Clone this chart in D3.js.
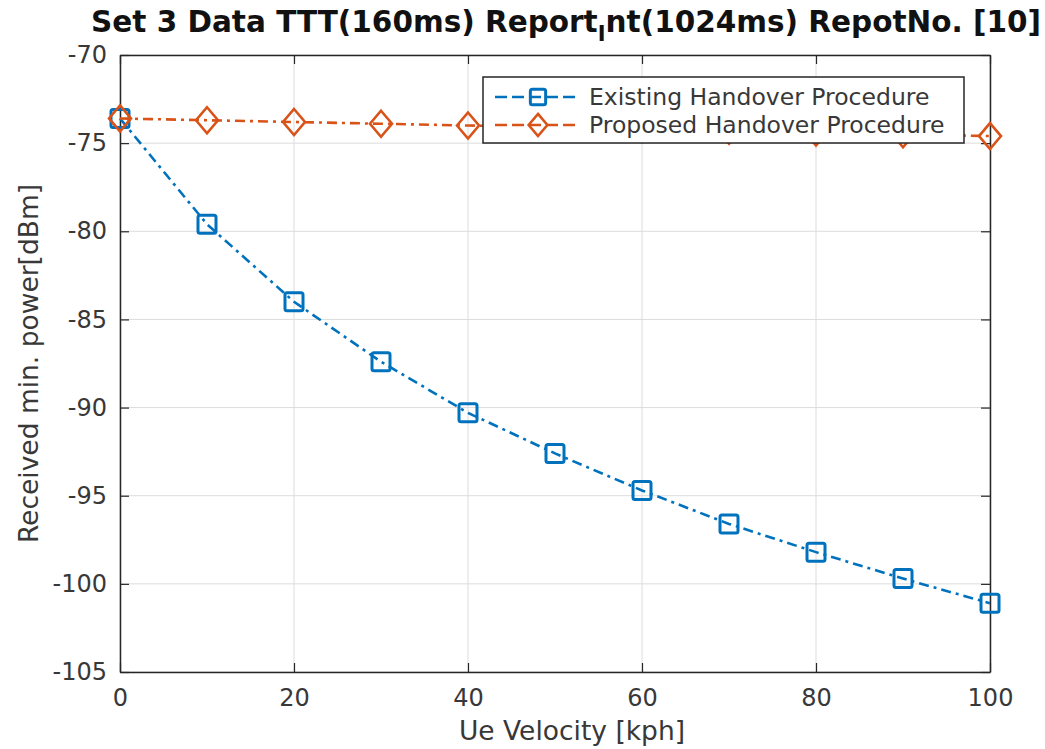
<!DOCTYPE html>
<html>
<head>
<meta charset="utf-8">
<script src="https://cdn.jsdelivr.net/npm/d3@7"></script>
<style>
  html, body { margin: 0; padding: 0; background: #fff; }
  svg { display: block; }
  text { font-family: "DejaVu Sans", sans-serif; }
</style>
</head>
<body>
<svg id="chart" width="1045" height="749"></svg>
<script>
// UE velocity samples (kph)
const velocity = [0, 10, 20, 30, 40, 50, 60, 70, 80, 90, 100];
// Received minimum power (dBm) for each procedure
const existingPower = [-73.6, -79.6, -84.0, -87.4, -90.3, -92.6, -94.7, -96.6, -98.2, -99.7, -101.1];
const proposedPower = [-73.6, -73.7, -73.8, -73.9, -74.0, -74.1, -74.2, -74.3, -74.4, -74.5, -74.6];
const seriesNames = ["Existing Handover Procedure", "Proposed Handover Procedure"];
const xTicks = [0, 20, 40, 60, 80, 100];
const yTicks = [-70, -75, -80, -85, -90, -95, -100, -105];

const svg = d3.select("#chart");
const plotLeft = 120, plotRight = 990, plotTop = 55, plotBottom = 672;

const x = d3.scaleLinear().domain([0, 100]).range([plotLeft, plotRight]);
const y = d3.scaleLinear().domain([-105, -70]).range([plotBottom, plotTop]);

const textColor = "#383838";
const blue = "#0072BD", orange = "#D95319";

// grid
const grid = svg.append("g");
grid.selectAll("line.gx").data(xTicks).join("line")
  .attr("x1", d => x(d)).attr("x2", d => x(d))
  .attr("y1", plotTop).attr("y2", plotBottom)
  .attr("stroke", "#dcdcdc").attr("stroke-width", 1);
grid.selectAll("line.gy").data(yTicks).join("line")
  .attr("x1", plotLeft).attr("x2", plotRight)
  .attr("y1", d => y(d)).attr("y2", d => y(d))
  .attr("stroke", "#dcdcdc").attr("stroke-width", 1);

// axes (ticks pointing inward on all four sides)
const tickLen = 9;
const axB = svg.append("g").attr("transform", `translate(0,${plotBottom})`)
  .call(d3.axisBottom(x).tickValues(xTicks).tickSizeInner(-tickLen).tickSizeOuter(0).tickPadding(18));
const axT = svg.append("g").attr("transform", `translate(0,${plotTop})`)
  .call(d3.axisTop(x).tickValues(xTicks).tickSizeInner(-tickLen).tickSizeOuter(0).tickFormat(""));
const axL = svg.append("g").attr("transform", `translate(${plotLeft},0)`)
  .call(d3.axisLeft(y).tickValues(yTicks).tickSizeInner(-tickLen).tickSizeOuter(0).tickPadding(13)
    .tickFormat(d3.format("d")));
const axR = svg.append("g").attr("transform", `translate(${plotRight},0)`)
  .call(d3.axisRight(y).tickValues(yTicks).tickSizeInner(-tickLen).tickSizeOuter(0).tickFormat(""));

[axB, axT, axL, axR].forEach(a => {
  a.select(".domain").attr("stroke", "#262626").attr("stroke-width", 1.5);
  a.selectAll(".tick line").attr("stroke", "#262626").attr("stroke-width", 1.2);
  a.selectAll(".tick text").attr("fill", textColor).attr("font-size", 24)
    .attr("font-family", "DejaVu Sans, sans-serif");
});
axL.selectAll(".tick text").text(d => d < 0 ? "-" + Math.abs(d) : d);
axB.selectAll(".tick text").attr("dy", "0.65em");

// series
const series = [
  { name: seriesNames[0], values: existingPower, color: blue, marker: "square" },
  { name: seriesNames[1], values: proposedPower, color: orange, marker: "diamond" }
];

const line = d3.line().x((d, i) => x(velocity[i])).y(d => y(d));
const dash = "10,5,3,5";

function drawMarker(g, type, color, k = 1) {
  if (type === "square") {
    g.append("rect").attr("x", -9 * k).attr("y", -9 * k).attr("width", 18 * k).attr("height", 18 * k)
      .attr("rx", 2)
      .attr("fill", "none").attr("stroke", color).attr("stroke-width", 3);
  } else {
    g.append("path").attr("d", `M0,${-13 * k}L${11 * k},0L0,${13 * k}L${-11 * k},0Z`)
      .attr("fill", "none").attr("stroke", color).attr("stroke-width", 2.6);
  }
}

series.forEach(s => {
  svg.append("path").datum(s.values)
    .attr("d", line).attr("fill", "none")
    .attr("stroke", s.color).attr("stroke-width", 2.6)
    .attr("stroke-dasharray", dash);
  s.values.forEach((v, i) => {
    const g = svg.append("g").attr("transform", `translate(${x(velocity[i])},${y(v)})`);
    drawMarker(g, s.marker, s.color);
  });
});

// legend
const lg = svg.append("g").attr("transform", "translate(483,77)");
lg.append("rect").attr("width", 481).attr("height", 66)
  .attr("fill", "#fff").attr("stroke", "#262626").attr("stroke-width", 1.5);
series.forEach((s, i) => {
  const cy = 20 + i * 28;
  lg.append("line").attr("x1", 12).attr("x2", 97).attr("y1", cy).attr("y2", cy)
    .attr("stroke", s.color).attr("stroke-width", 2.6).attr("stroke-dasharray", "12,5");
  const mg = lg.append("g").attr("transform", `translate(55,${cy})`);
  drawMarker(mg, s.marker, s.color, 0.85);
  lg.append("text").attr("x", 106).attr("y", cy + 8)
    .attr("font-size", 23.5).attr("fill", textColor).text(s.name);
});

// title (MATLAB-style subscript on the "I" of Report_Int)
const title = svg.append("text").attr("x", 566).attr("y", 32)
  .attr("text-anchor", "middle").attr("font-weight", "bold")
  .attr("font-size", 29.5).attr("fill", "#111");
title.append("tspan").text("Set 3 Data TTT(160ms) Report");
title.append("tspan").attr("font-size", 21).attr("dy", 9).text("I");
title.append("tspan").attr("dy", -9).text("nt(1024ms) RepotNo. [10]");

// axis labels
svg.append("text").attr("x", (plotLeft + plotRight) / 2 + 17).attr("y", 740)
  .attr("text-anchor", "middle").attr("font-size", 26.5).attr("fill", textColor)
  .text("Ue Velocity [kph]");
svg.append("text").attr("transform", `translate(38,${(plotTop + plotBottom) / 2}) rotate(-90)`)
  .attr("text-anchor", "middle").attr("font-size", 26.5).attr("fill", textColor)
  .text("Received min. power[dBm]");
</script>
</body>
</html>
